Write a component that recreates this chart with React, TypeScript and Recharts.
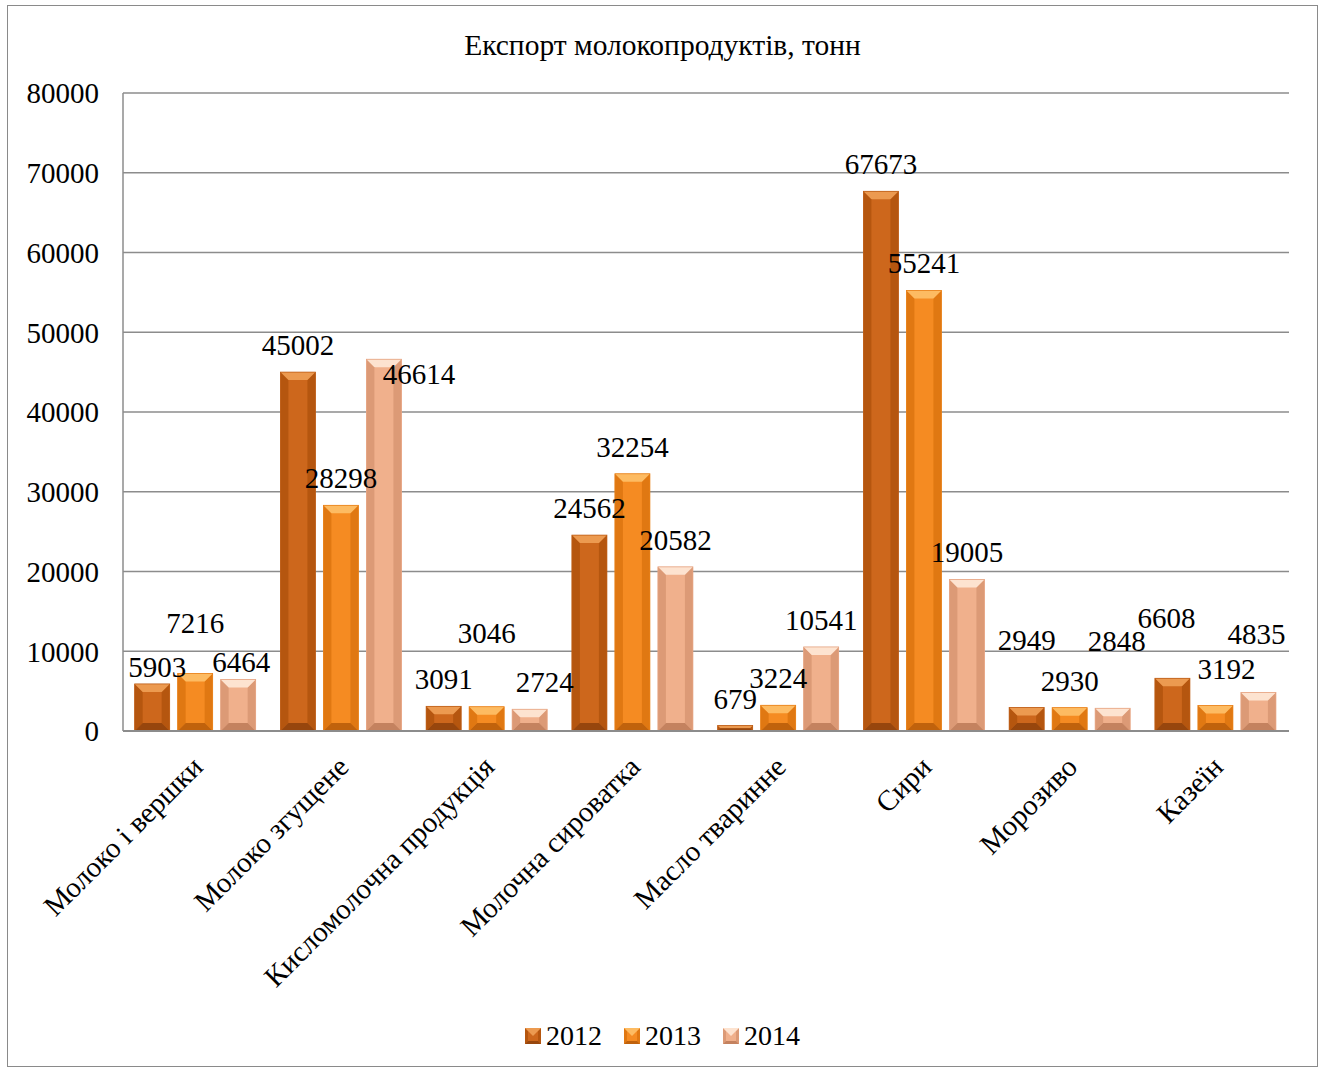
import React from "react";
import { BarChart, Bar, XAxis, YAxis, CartesianGrid, LabelList } from "recharts";

const categories = [
  "Молоко і вершки",
  "Молоко згущене",
  "Кисломолочна продукція",
  "Молочна сироватка",
  "Масло тваринне",
  "Сири",
  "Морозиво",
  "Казеїн",
];
const values2012 = [5903, 45002, 3091, 24562, 679, 67673, 2949, 6608];
const values2013 = [7216, 28298, 3046, 32254, 3224, 55241, 2930, 3192];
const values2014 = [6464, 46614, 2724, 20582, 10541, 19005, 2848, 4835];
const yTicks = [0, 10000, 20000, 30000, 40000, 50000, 60000, 70000, 80000];
const seriesNames = ["2012", "2013", "2014"];

// label nudges (relative to default "above the bar" placement), [dx, dy]
const nudge2012: [number, number][] = [[5, 10], [0, 0], [0, 0], [0, 0], [0, 0], [0, 0], [0, -40], [-6, -33]];
const nudge2013: [number, number][] = [[0, -23], [0, 0], [0, -47], [0, 0], [0, 0], [0, 0], [0, 0], [11, -10]];
const nudge2014: [number, number][] = [[3, 10], [35, 42], [15, 0], [0, 0], [0, 0], [0, 0], [4, -40], [-2, -31]];

const data = categories.map((name, i) => ({
  name,
  y2012: values2012[i],
  y2013: values2013[i],
  y2014: values2014[i],
}));

const FONT = "'Liberation Serif', 'Times New Roman', serif";

type Pal = { main: string; top: string; side: string; bottom: string; edge: string };
const palettes: Pal[] = [
  { main: "#cd671c", top: "#ec9a50", side: "#b5560f", bottom: "#97460d", edge: "#bd5d16" },
  { main: "#f58b22", top: "#fdbb62", side: "#e07812", bottom: "#c0620c", edge: "#e88018" },
  { main: "#f0b08c", top: "#fde3d0", side: "#dc9a76", bottom: "#c4825f", edge: "#e6a482" },
];

const makeShape = (p: Pal) => (props: any) => {
  const { x, y, width: w, height: h } = props;
  if (!w || !h || h <= 0) return null;
  const b = Math.max(0, Math.min(8, w / 2, h / 2));
  return (
    <g>
      <rect x={x} y={y} width={w} height={h} fill={p.main} />
      <polygon points={`${x},${y} ${x + b},${y + b} ${x + b},${y + h - b} ${x},${y + h}`} fill={p.side} />
      <polygon points={`${x + w},${y} ${x + w - b},${y + b} ${x + w - b},${y + h - b} ${x + w},${y + h}`} fill={p.side} />
      <polygon points={`${x},${y} ${x + w},${y} ${x + w - b},${y + b} ${x + b},${y + b}`} fill={p.top} />
      <polygon points={`${x},${y + h} ${x + w},${y + h} ${x + w - b},${y + h - b} ${x + b},${y + h - b}`} fill={p.bottom} />
      <rect x={x} y={y} width={w} height={h} fill="none" stroke={p.edge} strokeWidth={0.8} />
    </g>
  );
};

const makeLabel = (nudges: [number, number][]) => (props: any) => {
  const { x, y, width, value, index } = props;
  const [dx, dy] = nudges[index] || [0, 0];
  return (
    <text
      x={x + width / 2 + dx}
      y={y - 17 + dy}
      textAnchor="middle"
      fontFamily={FONT}
      fontSize={29}
      fill="#000"
    >
      {value}
    </text>
  );
};

const XTick = (props: any) => {
  const { x, y, payload } = props;
  return (
    <g transform={`translate(${x + 3},${y + 24})`}>
      <text transform="rotate(-45)" textAnchor="end" fontFamily={FONT} fontSize={29} fill="#000" dy={8}>
        {payload.value}
      </text>
    </g>
  );
};

const LegendSquare = ({ p }: { p: Pal }) => (
  <svg width={16} height={16} style={{ marginRight: 5 }}>
    <rect x={0} y={0} width={16} height={16} fill={p.main} />
    <polygon points="0,0 3,3 3,13 0,16" fill={p.side} />
    <polygon points="16,0 13,3 13,13 16,16" fill={p.side} />
    <polygon points="0,0 16,0 8,8" fill={p.top} />
    <polygon points="0,16 16,16 13,13 3,13" fill={p.bottom} />
  </svg>
);

const CustomLegend = () => (
  <div
    style={{
      display: "flex",
      justifyContent: "center",
      alignItems: "center",
      fontFamily: FONT,
      fontSize: 28,
      color: "#000",
      gap: 22,
    }}
  >
    {seriesNames.map((n, i) => (
      <div key={n} style={{ display: "flex", alignItems: "center" }}>
        <LegendSquare p={palettes[i]} />
        <span>{n}</span>
      </div>
    ))}
  </div>
);

export default function App() {
  return (
    <div style={{ position: "absolute", left: 0, top: 0, width: 1325, height: 1073, background: "#fff" }}>
      <div
        style={{
          position: "absolute",
          left: 7,
          top: 5,
          width: 1311,
          height: 1062,
          border: "1.5px solid #8a8a8a",
          boxSizing: "border-box",
        }}
      />
      <div
        style={{
          position: "absolute",
          left: 0,
          top: 27,
          width: 1325,
          textAlign: "center",
          fontFamily: FONT,
          fontSize: 29.5,
          color: "#000",
          lineHeight: "36px",
        }}
      >
        Експорт молокопродуктів, тонн
      </div>
      <div style={{ position: "absolute", left: 0, top: 0 }}>
        <BarChart
          width={1325}
          height={1073}
          data={data}
          margin={{ top: 93, right: 36, left: 23, bottom: 332 }}
          barCategoryGap="8%"
          barGap={8}
        >
          <CartesianGrid vertical={false} stroke="#8c8c8c" strokeWidth={1.5} />
          <XAxis
            dataKey="name"
            interval={0}
            tick={<XTick />}
            tickLine={false}
            axisLine={{ stroke: "#8c8c8c", strokeWidth: 2 }}
            height={10}
          />
          <YAxis
            domain={[0, 80000]}
            ticks={yTicks}
            width={100}
            tickLine={false}
            tickSize={0}
            tickMargin={24}
            axisLine={{ stroke: "#8c8c8c", strokeWidth: 1.5 }}
            tick={{ fontFamily: FONT, fontSize: 29, fill: "#000" }}
            interval={0}
          />
          <Bar dataKey="y2012" name="2012" fill={palettes[0].main} shape={makeShape(palettes[0])} isAnimationActive={false}>
            <LabelList dataKey="y2012" content={makeLabel(nudge2012)} />
          </Bar>
          <Bar dataKey="y2013" name="2013" fill={palettes[1].main} shape={makeShape(palettes[1])} isAnimationActive={false}>
            <LabelList dataKey="y2013" content={makeLabel(nudge2013)} />
          </Bar>
          <Bar dataKey="y2014" name="2014" fill={palettes[2].main} shape={makeShape(palettes[2])} isAnimationActive={false}>
            <LabelList dataKey="y2014" content={makeLabel(nudge2014)} />
          </Bar>
        </BarChart>
      </div>
      <div style={{ position: "absolute", left: 0, top: 1020, width: 1325 }}>
        <CustomLegend />
      </div>
    </div>
  );
}
